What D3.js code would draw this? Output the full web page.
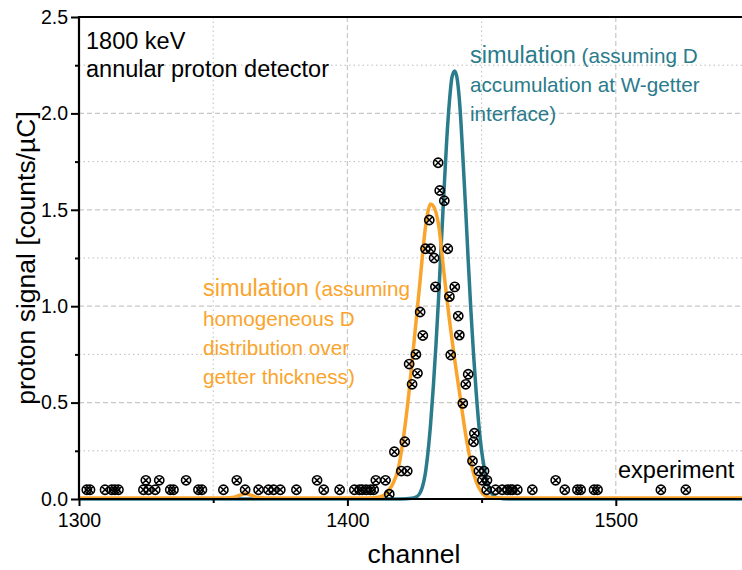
<!DOCTYPE html>
<html>
<head>
<meta charset="utf-8">
<script src="https://cdn.jsdelivr.net/npm/d3@7"></script>
<style>
  body { margin: 0; background: #fff; }
  svg { display: block; font-family: "Liberation Sans", Arial, sans-serif; }
</style>
</head>
<body>
<div id="chart-area"></div>
<script>
// experimental points (channel, counts/uC)
var expChannel = [1302.9, 1304.1, 1309.7, 1312.2, 1313.4, 1314.7, 1324.0, 1325.9, 1328.4, 1334.0, 1335.2, 1344.5, 1345.8,
  1353.8, 1361.9, 1366.9, 1370.6, 1372.5, 1375.0, 1381.0, 1391.2, 1397.1, 1402.6, 1404.5, 1405.5, 1407.0, 1408.6, 1409.8,
  1324.9, 1329.9, 1339.9, 1358.8, 1388.7, 1410.6, 1414.2,
  1415.6, 1417.5, 1420.1, 1421.4, 1422.3, 1423.0, 1424.1, 1425.5, 1426.1, 1427.1, 1428.1, 1429.1, 1430.5, 1431.0, 1432.3,
  1432.8, 1433.8, 1434.4, 1436.1, 1437.4, 1438.0, 1438.5, 1440.0, 1441.3, 1441.7, 1443.0, 1444.1, 1445.0, 1446.6, 1447.0,
  1447.3, 1449.0, 1450.3, 1450.9, 1452.0, 1451.9,
  1455.2, 1457.7, 1459.6, 1460.8, 1461.5, 1463.3, 1468.9, 1477.6, 1481.0, 1485.7, 1486.9, 1491.9, 1493.2, 1516.8, 1526.1];
var expSignal = [0.048, 0.048, 0.048, 0.048, 0.048, 0.048, 0.048, 0.048, 0.048, 0.048, 0.048, 0.048, 0.048,
  0.048, 0.048, 0.048, 0.048, 0.048, 0.048, 0.048, 0.048, 0.048, 0.048, 0.048, 0.048, 0.048, 0.048, 0.048,
  0.097, 0.097, 0.097, 0.097, 0.097, 0.097, 0.097,
  0.025, 0.245, 0.145, 0.297, 0.145, 0.70, 0.595, 0.75, 0.652, 0.97, 0.848, 1.298, 1.447, 1.298, 1.25,
  1.10, 1.744, 1.60, 1.547, 1.298, 1.05, 0.747, 1.10, 0.949, 0.85, 0.496, 0.595, 0.647, 0.197, 0.297,
  0.341, 0.145, 0.097, 0.145, 0.097, 0.048,
  0.048, 0.048, 0.048, 0.048, 0.048, 0.048, 0.048, 0.097, 0.048, 0.048, 0.048, 0.048, 0.048, 0.048, 0.048];

// simulation, homogeneous D distribution (orange)
var homChannel = [1300, 1352, 1357, 1360, 1362, 1364, 1367, 1372, 1405, 1410, 1413, 1415, 1417, 1419, 1421, 1423, 1425,
  1427, 1429, 1430, 1431, 1432, 1434, 1436, 1438, 1440, 1442, 1444, 1446, 1448, 1450, 1452, 1455, 1460, 1550];
var homSignal = [0.005, 0.005, 0.008, 0.02, 0.028, 0.02, 0.008, 0.005, 0.005, 0.007, 0.015, 0.04, 0.08, 0.16, 0.33, 0.56, 0.84,
  1.12, 1.40, 1.49, 1.53, 1.52, 1.42, 1.17, 0.93, 0.72, 0.53, 0.34, 0.19, 0.09, 0.035, 0.012, 0.006, 0.005, 0.005];

// simulation, D accumulation at W-getter interface (teal)
var accChannel = [1300, 1420, 1424, 1426, 1427, 1428, 1429, 1430, 1431, 1432, 1433, 1434, 1435, 1436, 1437, 1438, 1439,
  1440, 1441, 1442, 1443, 1444, 1445, 1446, 1447, 1448, 1449, 1450, 1451, 1452, 1453, 1454, 1456, 1460, 1550];
var accSignal = [0, 0, 0.004, 0.014, 0.03, 0.065, 0.13, 0.24, 0.39, 0.58, 0.80, 1.05, 1.33, 1.60, 1.86, 2.06, 2.19,
  2.22, 2.17, 2.02, 1.78, 1.52, 1.24, 0.98, 0.75, 0.55, 0.38, 0.25, 0.16, 0.09, 0.05, 0.025, 0.006, 0, 0];

var xMajor = [1300, 1400, 1500];
var xMinor = [1350, 1450, 1550];
var yMajor = [0, 0.5, 1.0, 1.5, 2.0, 2.5];
var yMinor = [0.25, 0.75, 1.25, 1.75, 2.25];

var orange = '#faa42c';
var teal = '#2a7b8b';

var W = 742, H = 570;
var plotLeft = 79, plotTop = 17, plotBottom = 499;

var svg = d3.select('#chart-area').append('svg')
    .attr('width', W)
    .attr('height', H);

var x = d3.scaleLinear().domain([1300, 1550]).range([plotLeft, plotLeft + 250 * 2.684]);
var y = d3.scaleLinear().domain([0, 2.5]).range([plotBottom, plotTop]);

// grid
var grid = svg.append('g');
grid.selectAll('.ymin').data(yMinor).enter().append('line')
    .attr('x1', plotLeft).attr('x2', W).attr('y1', d => y(d)).attr('y2', d => y(d))
    .attr('stroke', '#bdbdbd').attr('stroke-width', 1).attr('stroke-dasharray', '1.5,3');
grid.selectAll('.ymaj').data(yMajor.slice(1, 5)).enter().append('line')
    .attr('x1', plotLeft).attr('x2', W).attr('y1', d => y(d)).attr('y2', d => y(d))
    .attr('stroke', '#c8c8c8').attr('stroke-width', 1.2).attr('stroke-dasharray', '5,3');
grid.selectAll('.xmin').data(xMinor).enter().append('line')
    .attr('y1', plotTop).attr('y2', plotBottom).attr('x1', d => x(d)).attr('x2', d => x(d))
    .attr('stroke', '#bdbdbd').attr('stroke-width', 1).attr('stroke-dasharray', '1.5,3');
grid.selectAll('.xmaj').data(xMajor.slice(1)).enter().append('line')
    .attr('y1', plotTop).attr('y2', plotBottom).attr('x1', d => x(d)).attr('x2', d => x(d))
    .attr('stroke', '#c8c8c8').attr('stroke-width', 1.2).attr('stroke-dasharray', '5,3');

// simulation curves
var line = d3.line().x(d => x(d[0])).y(d => y(d[1])).curve(d3.curveMonotoneX);

svg.append('path')
    .datum(d3.zip(accChannel, accSignal))
    .attr('d', line)
    .attr('fill', 'none').attr('stroke', teal).attr('stroke-width', 3.5);

svg.append('path')
    .datum(d3.zip(homChannel, homSignal))
    .attr('d', line)
    .attr('fill', 'none').attr('stroke', orange).attr('stroke-width', 3.5);

// axes
var yAxisMajor = d3.axisLeft(y).tickValues(yMajor).tickSize(8).tickSizeOuter(0).tickPadding(3).tickFormat(d3.format('.1f'));
var yAxisMinor = d3.axisLeft(y).tickValues(yMinor).tickSize(4).tickSizeOuter(0).tickFormat('');
var xAxisMajor = d3.axisBottom(x).tickValues(xMajor).tickSize(7).tickSizeOuter(0).tickPadding(7).tickFormat(d3.format('d'));
var xAxisMinor = d3.axisBottom(x).tickValues(xMinor).tickSize(4).tickSizeOuter(0).tickFormat('');

function styleAxis(g) {
  g.select('.domain').remove();
  g.selectAll('.tick line').attr('stroke', '#000').attr('stroke-width', 2);
  g.selectAll('.tick text').attr('fill', '#000').attr('font-size', '19.5px')
      .attr('font-family', '"Liberation Sans", Arial, sans-serif');
}

svg.append('g').attr('transform', `translate(${plotLeft},0)`).call(yAxisMajor).call(styleAxis);
svg.append('g').attr('transform', `translate(${plotLeft},0)`).call(yAxisMinor).call(styleAxis);
svg.append('g').attr('transform', `translate(0,${plotBottom})`).call(xAxisMajor).call(styleAxis);
svg.append('g').attr('transform', `translate(0,${plotBottom})`).call(xAxisMinor).call(styleAxis);

svg.append('line').attr('x1', plotLeft).attr('x2', plotLeft).attr('y1', plotTop - 1).attr('y2', plotBottom + 1)
    .attr('stroke', '#000').attr('stroke-width', 2.2);
svg.append('line').attr('x1', plotLeft).attr('x2', W).attr('y1', plotBottom).attr('y2', plotBottom)
    .attr('stroke', '#000').attr('stroke-width', 2.2);
svg.append('line').attr('x1', plotLeft).attr('x2', W).attr('y1', plotTop).attr('y2', plotTop)
    .attr('stroke', '#000').attr('stroke-width', 2);

// experiment markers: circle with cross
var r = 4.6, k = r * Math.SQRT1_2;
var pts = svg.append('g').attr('fill', 'none').attr('stroke', '#000').attr('stroke-width', 1.6);
pts.selectAll('path').data(d3.zip(expChannel, expSignal)).enter().append('path')
    .attr('transform', d => `translate(${x(d[0])},${y(d[1])})`)
    .attr('d', `M${-r},0A${r},${r} 0 1,0 ${r},0A${r},${r} 0 1,0 ${-r},0Z` +
               `M${-k},${-k}L${k},${k}M${-k},${k}L${k},${-k}`);

// axis titles
svg.append('text')
    .attr('x', 414).attr('y', 563)
    .attr('text-anchor', 'middle')
    .attr('font-size', '26.5px')
    .text('channel');

svg.append('text')
    .attr('transform', 'translate(35,258) rotate(-90)')
    .attr('text-anchor', 'middle')
    .attr('font-size', '26.5px')
    .text('proton signal [counts/µC]');

// annotations
var note = svg.append('g').attr('font-size', '23.5px');
note.append('text').attr('x', 86).attr('y', 49).text('1800 keV');
note.append('text').attr('x', 86).attr('y', 77).text('annular proton detector');
note.append('text').attr('x', 618).attr('y', 478).text('experiment');

var tealNote = svg.append('text').attr('fill', teal).attr('font-size', '20.7px');
var t1 = tealNote.append('tspan').attr('x', 470).attr('y', 63);
t1.append('tspan').attr('font-size', '23.5px').text('simulation');
t1.append('tspan').text(' (assuming D');
tealNote.append('tspan').attr('x', 470).attr('y', 92).text('accumulation at W-getter');
tealNote.append('tspan').attr('x', 470).attr('y', 121).text('interface)');

var orangeNote = svg.append('text').attr('fill', orange).attr('font-size', '20.7px');
var o1 = orangeNote.append('tspan').attr('x', 203).attr('y', 296);
o1.append('tspan').attr('font-size', '23.5px').text('simulation');
o1.append('tspan').text(' (assuming');
orangeNote.append('tspan').attr('x', 203).attr('y', 326).text('homogeneous D');
orangeNote.append('tspan').attr('x', 203).attr('y', 355).text('distribution over');
orangeNote.append('tspan').attr('x', 203).attr('y', 384).text('getter thickness)');
</script>
</body>
</html>
